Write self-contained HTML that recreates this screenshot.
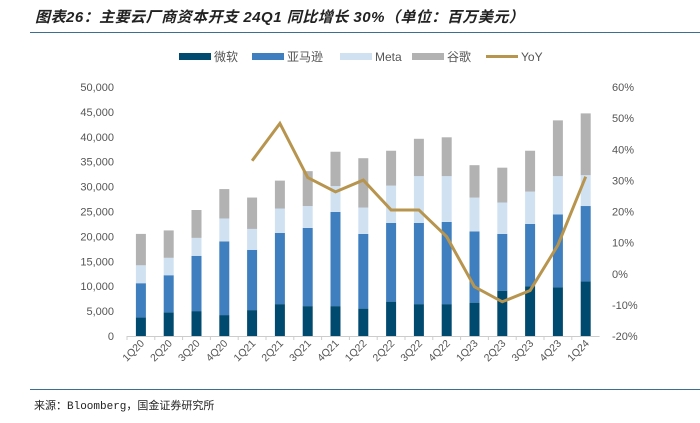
<!DOCTYPE html>
<html><head><meta charset="utf-8"><style>
body{margin:0;background:#fff;}
#wrap{position:relative;width:700px;height:423px;overflow:hidden;font-family:"Liberation Sans","Noto Sans CJK SC",sans-serif;}
#title{position:absolute;left:35px;top:6px;font-size:15px;font-weight:bold;font-style:italic;color:#222;white-space:nowrap;letter-spacing:0.5px;}
#src{position:absolute;left:34px;top:397px;font-size:11px;color:#222;font-family:"Liberation Mono","Noto Sans CJK SC",monospace;}
.hl{position:absolute;left:30px;width:670px;height:1px;background:#3a6f90;}
</style></head><body>
<div id="wrap">
<div id="title">图表26：主要云厂商资本开支 24Q1 同比增长 30%（单位：百万美元）</div>
<div class="hl" style="top:32px"></div>
<div class="hl" style="top:389px"></div>
<div id="src">来源：Bloomberg，国金证券研究所</div>
<svg id="svg" width="700" height="423" style="position:absolute;left:0;top:0"></svg>
</div>
<script>
const categories=["1Q20","2Q20","3Q20","4Q20","1Q21","2Q21","3Q21","4Q21","1Q22","2Q22","3Q22","4Q22","1Q23","2Q23","3Q23","4Q23","1Q24"];
const microsoft=[3750,4750,5000,4200,5200,6400,6000,6000,5500,6900,6400,6400,6700,9100,10000,9800,11000];
const amazon=[6850,7450,11100,14800,12100,14300,15700,18900,15000,15800,16300,16500,14300,11400,12500,14600,15100];
const meta=[3600,3500,3600,4600,4200,4900,4400,5200,5300,7500,9400,9200,6800,6300,6500,7700,6200];
const google=[6300,5500,5600,5900,6300,5600,7000,6900,9900,7000,7500,7800,6500,7000,8200,11200,12400];
const yoyCats=["1Q21","2Q21","3Q21","4Q21","1Q22","2Q22","3Q22","4Q22","1Q23","2Q23","3Q23","4Q23","1Q24"];
const yoy=[36.3,48.3,30.9,26.3,30.1,20.5,20.5,11.9,-4.2,-9.0,-5.4,9.2,31.2];
const leftTicks=[0,5000,10000,15000,20000,25000,30000,35000,40000,45000,50000];
const rightTicks=[-20,-10,0,10,20,30,40,50,60];

const svg=document.getElementById('svg');const NS='http://www.w3.org/2000/svg';
function mk(t,a,p){const e=document.createElementNS(NS,t);for(const k in a)e.setAttribute(k,a[k]);(p||svg).appendChild(e);return e;}
const x0=127,step=27.8,y0=336,yTop=87;
const xc=i=>x0+step*(i+0.5);
const yL=v=>y0-(v/50000)*(y0-yTop);
const yR=v=>y0-((v+20)/80)*(y0-yTop);
const fmt=v=>v.toLocaleString('en-US');
leftTicks.forEach(v=>{const t=mk('text',{x:114,y:yL(v)+4,'text-anchor':'end','font-size':11,fill:'#555','font-family':'Liberation Sans'});t.textContent=fmt(v);

});
rightTicks.forEach(v=>{const t=mk('text',{x:612,y:yR(v)+4,'font-size':11,fill:'#555','font-family':'Liberation Sans'});t.textContent=v+'%';

});
const ax=mk('line',{x1:x0,x2:x0+step*categories.length,y1:y0+0.5,y2:y0+0.5,stroke:'#ccc'});


const series=[[microsoft,'#004a70','microsoft'],[amazon,'#3f7fbf','amazon'],[meta,'#d0e1f2','meta'],[google,'#b2b2b2','google']];
categories.forEach((c,i)=>{let base=0;
 series.forEach(([arr,col,nm])=>{const v=arr[i];const r=mk('rect',{x:xc(i)-5,y:yL(base+v),width:10,height:yL(base)-yL(base+v),fill:col});
 
 base+=v;});
 const tk=mk('line',{x1:x0+step*i,x2:x0+step*i,y1:y0,y2:y0+4,stroke:'#ccc'});
 
 
 const t=mk('text',{x:0,y:0,'font-size':10.5,fill:'#555','font-family':'Liberation Sans','text-anchor':'end',transform:`translate(${xc(i)+4},${y0+8}) rotate(-45)`});t.textContent=c;
 
 });
const pts=yoyCats.map((c,j)=>xc(categories.indexOf(c))+','+yR(yoy[j])).join(' ');
const pl=mk('polyline',{points:pts,fill:'none',stroke:'#b8954e','stroke-width':3,'stroke-linejoin':'miter'});


const leg=[['微软','#004a70','rect'],['亚马逊','#3f7fbf','rect'],['Meta','#d0e1f2','rect'],['谷歌','#b2b2b2','rect'],['YoY','#b8954e','line']];
const lx=[179,252,340,412,486];
leg.forEach(([n,col,tp],k)=>{const g=mk('g',{});
 
 
 if(tp==='rect')mk('rect',{x:lx[k],y:53,width:32,height:7,fill:col},g);
 else mk('line',{x1:lx[k],x2:lx[k]+32,y1:56.5,y2:56.5,stroke:col,'stroke-width':3},g);
 const t=mk('text',{x:lx[k]+35,y:61,'font-size':12,fill:'#555','font-family':'Liberation Sans, Noto Sans CJK SC, sans-serif'},g);t.textContent=n;});
</script>
</body></html>
